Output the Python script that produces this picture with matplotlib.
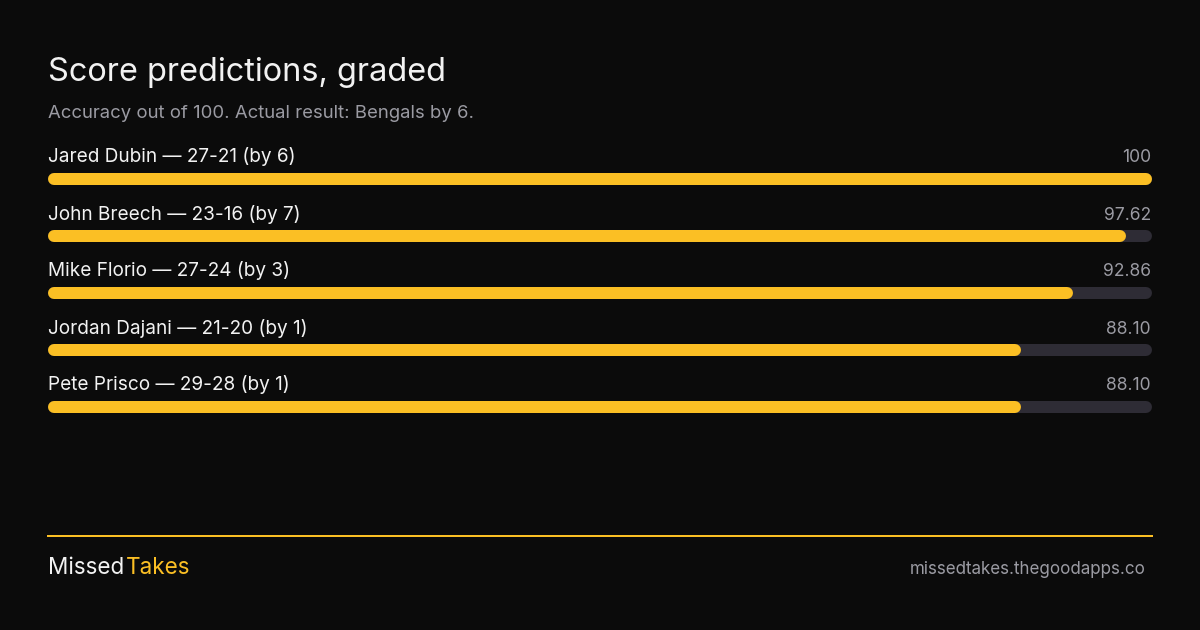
import matplotlib
matplotlib.use("Agg")
import matplotlib.pyplot as plt

names = ["Jared Dubin", "John Breech", "Mike Florio", "Jordan Dajani", "Pete Prisco"]
picks = ["27-21 (by 6)", "23-16 (by 7)", "27-24 (by 3)", "21-20 (by 1)", "29-28 (by 1)"]
scores = [100, 97.62, 92.86, 88.10, 88.10]
score_labels = ["100", "97.62", "92.86", "88.10", "88.10"]

BG = "#0b0b0b"
YELLOW = "#fbbf24"
TRACK = "#2e2c35"
WHITE = "#f2f2f2"
GRAY = "#9b9ba3"

plt.rcParams["font.family"] = ["Inter", "DejaVu Sans"]

W, H, DPI = 1200, 630, 100
fig = plt.figure(figsize=(W / DPI, H / DPI), dpi=DPI, facecolor=BG)

# layout axes in pixel coords
ax = fig.add_axes([0, 0, 1, 1])
ax.set_xlim(0, W)
ax.set_ylim(H, 0)
ax.axis("off")

def pt(px):
    return px * 72 / DPI

ax.text(48, 81, "Score predictions, graded", color=WHITE, fontsize=pt(32.5),
        va="baseline", ha="left")
ax.text(48, 117.5, "Accuracy out of 100. Actual result: Bengals by 6.", color=GRAY,
        fontsize=pt(18.5), va="baseline", ha="left")

# bar axes: x in score units (0..100 spans 48..1152 px), y in pixels
left, right = 48, 1152
bx = fig.add_axes([left / W, 0, (right - left) / W, 1])
bx.set_xlim(0, 100)
bx.set_ylim(H, 0)
bx.axis("off")
bx.patch.set_alpha(0)

bar_px = 12
cap = (bar_px / 2) / ((right - left) / 100)  # round cap length in score units
lw = pt(bar_px)

for i, (n, p, s, sl) in enumerate(zip(names, picks, scores, score_labels)):
    yb = 179 + i * 57
    yt = 162.5 + i * 57
    bx.plot([cap, 100 - cap], [yb, yb], color=TRACK, lw=lw, solid_capstyle="round")
    bx.plot([cap, s - cap], [yb, yb], color=YELLOW, lw=lw, solid_capstyle="round")
    bx.text(0, yt, f"{n} \u2014 {p}", color=WHITE, fontsize=pt(19), va="baseline", ha="left")
    bx.text(99.9, yt, sl, color=GRAY, fontsize=pt(17.5), va="baseline", ha="right")

# footer
ax.plot([48, 1152], [536, 536], color=YELLOW, lw=pt(2))
t1 = ax.text(48, 574, "Missed", color=WHITE, fontsize=pt(22.5), va="baseline", ha="left")
ax.annotate("Takes", xy=(1, 0), xycoords=t1, xytext=(1.5, 0), textcoords="offset points",
            color=YELLOW, fontsize=pt(22.5), va="bottom", ha="left")
ax.text(1146, 573.5, "missedtakes.thegoodapps.co", color=GRAY, fontsize=pt(17),
        va="baseline", ha="right")

fig.savefig("out.png", dpi=DPI, facecolor=BG)
